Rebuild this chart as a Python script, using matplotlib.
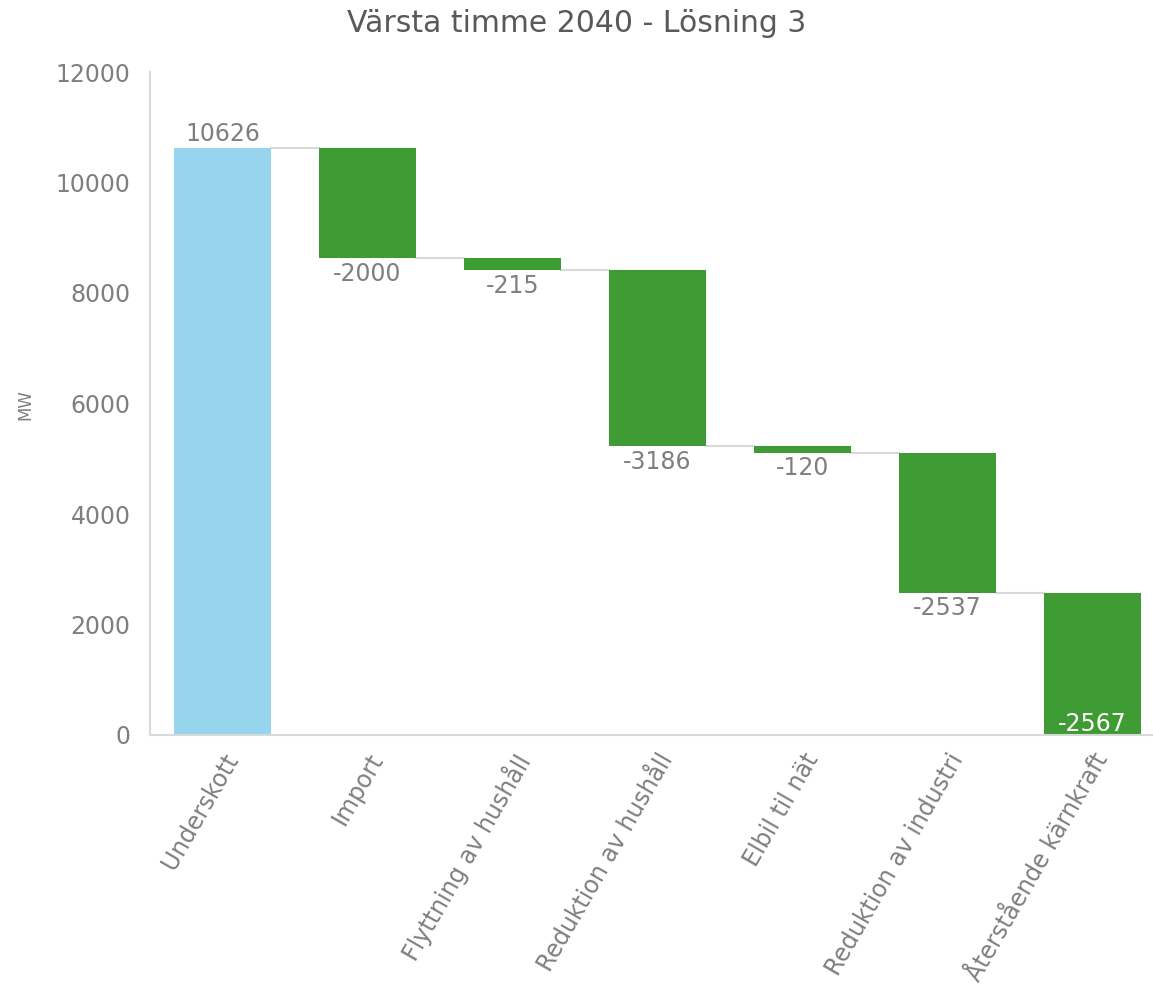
import numpy as np
import matplotlib.pyplot as plt

# Kategorier och värden (MW)
kategorier = ["Underskott", "Import", "Flyttning av hushåll", "Reduktion av hushåll",
              "Elbil til nät", "Reduktion av industri", "Återstående kärnkraft"]
varden = [10626, -2000, -215, -3186, -120, -2537, -2567]

gra = "#7f7f7f"
blaa = "#97d5ef"
gron = "#3f9c35"
fs = 17

fig = plt.figure(figsize=(11.53, 9.94), dpi=100)
ax = fig.add_axes([150 / 1153, 1 - 735 / 994, 1 - 150 / 1153, (735 - 72) / 994])

x = np.arange(len(kategorier))
slut = np.cumsum(varden)
start = slut - np.array(varden)
start[0] = 0
bredd = 0.67

for i, v in enumerate(varden):
    if i == 0:
        ax.bar(x[i], v, bottom=0, width=bredd, color=blaa, zorder=2)
        ax.text(x[i], v + 40, str(v), ha="center", va="bottom", color=gra, fontsize=fs)
    else:
        ax.bar(x[i], v, bottom=start[i], width=bredd, color=gron, zorder=2)
        if i == len(varden) - 1:
            ax.text(x[i], slut[i] - 20, str(v), ha="center", va="bottom", color="white", fontsize=fs, zorder=3)
        else:
            ax.text(x[i], slut[i] - 60, str(v), ha="center", va="top", color=gra, fontsize=fs)

# Förbindelselinjer mellan staplarna
for i in range(len(varden) - 1):
    ax.plot([x[i] + bredd / 2, x[i + 1] - bredd / 2], [slut[i], slut[i]],
            color="#d9d9d9", lw=1.5, zorder=1)

ax.set_xlim(-0.5, 6.42)
ax.set_ylim(0, 12000)
ax.set_yticks(np.arange(0, 12001, 2000))
ax.set_xticks(x)
ax.set_xticklabels(kategorier, rotation=60, ha="right", rotation_mode="anchor")
ax.tick_params(axis="both", length=0, colors=gra, labelsize=fs)
ax.tick_params(axis="x", pad=10)
ax.tick_params(axis="y", pad=14)
for s in ["top", "right"]:
    ax.spines[s].set_visible(False)
ax.spines["left"].set_color("#d9d9d9")
ax.spines["bottom"].set_color("#d9d9d9")
ax.spines["left"].set_linewidth(1.5)
ax.spines["bottom"].set_linewidth(1.5)

fig.text(25 / 1153, 1 - 405 / 994, "MW", rotation=90, ha="center", va="center",
         color=gra, fontsize=12)
fig.text(0.5, 1 - 24 / 994, "Värsta timme 2040 - Lösning 3", ha="center", va="center",
         color="#595959", fontsize=21.5)

plt.savefig("out.png", dpi=100)
